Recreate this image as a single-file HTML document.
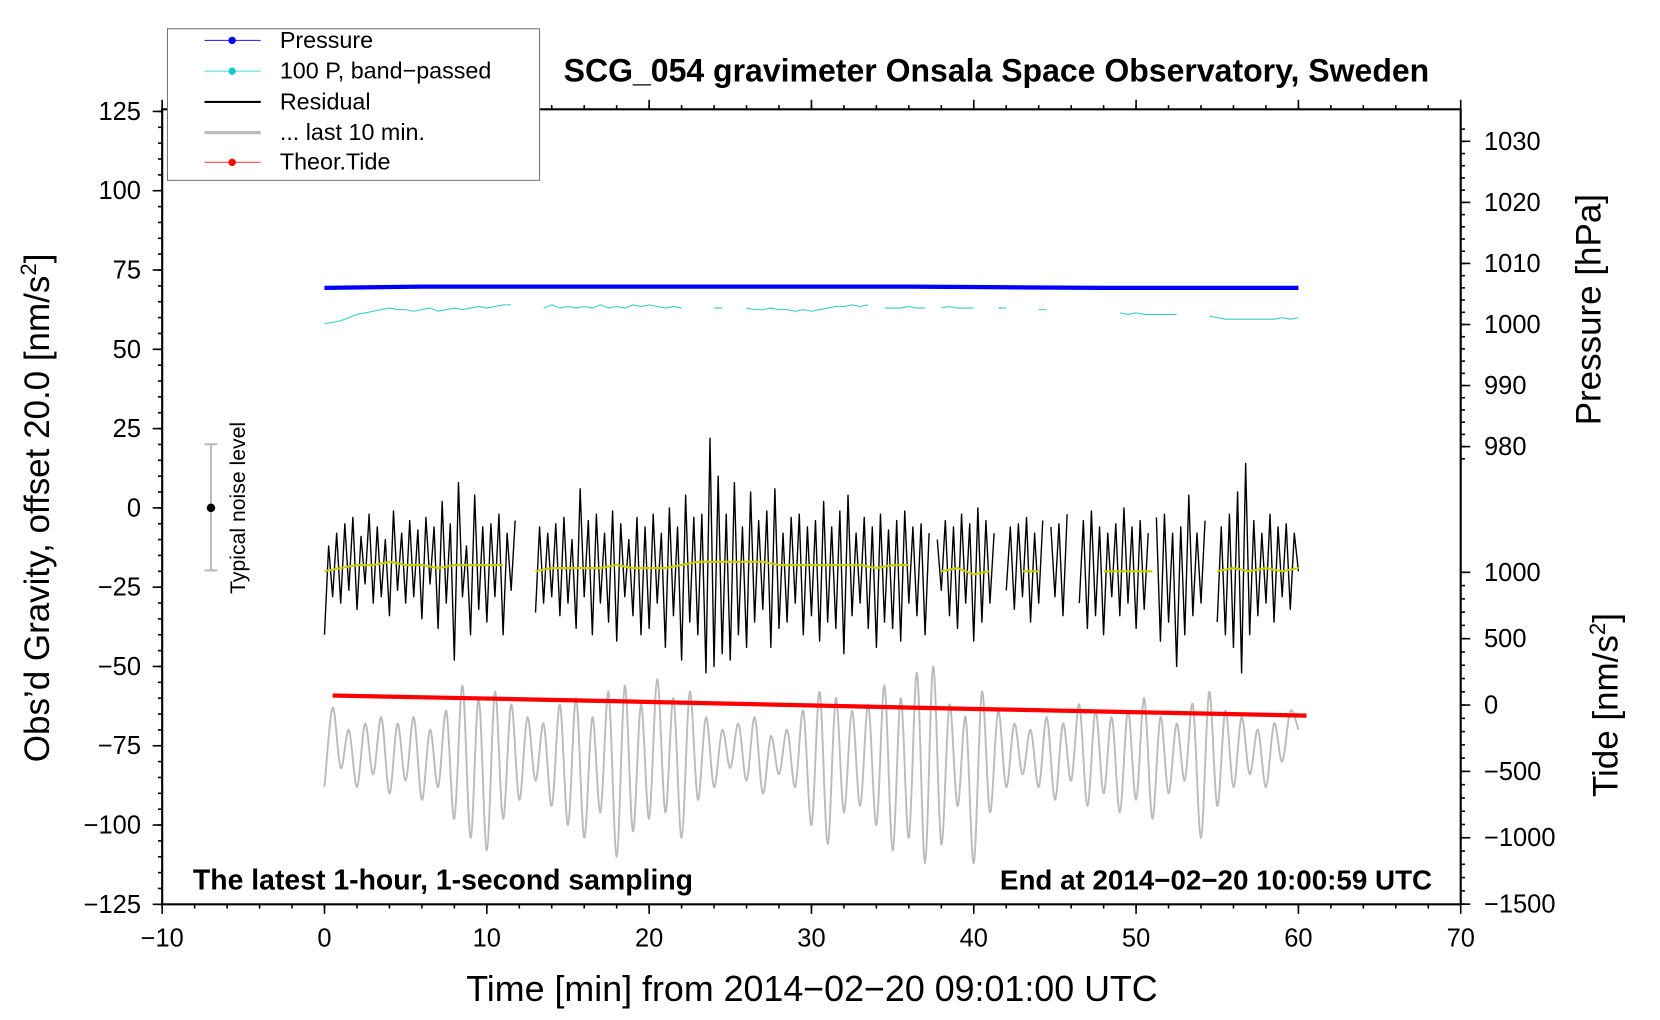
<!DOCTYPE html>
<html><head><meta charset="utf-8"><style>
html,body{margin:0;padding:0;background:#fff;}
svg{display:block;font-family:"Liberation Sans",Arial,sans-serif;}
</style></head><body>
<svg id="chart" width="1660" height="1020" viewBox="0 0 1566 962" xmlns="http://www.w3.org/2000/svg">
<rect x="0" y="0" width="1566" height="962" fill="#fff"/>
<g id="plot"></g>
<text x="940" y="77" text-anchor="middle" font-size="30.2" font-weight="bold">SCG_054 gravimeter Onsala Space Observatory, Sweden</text>
<text x="182" y="839" font-size="26.8" font-weight="bold">The latest 1-hour, 1-second sampling</text>
<text x="1351" y="839" text-anchor="end" font-size="26.2" font-weight="bold">End at 2014−02−20 10:00:59 UTC</text>
<text x="766" y="944" text-anchor="middle" font-size="33.8">Time [min] from 2014−02−20 09:01:00 UTC</text>
<text transform="translate(46,479) rotate(-90)" text-anchor="middle" font-size="33">Obs’d Gravity, offset 20.0 [nm/s<tspan font-size="21" dy="-12">2</tspan><tspan dy="12">]</tspan></text>
<text transform="translate(1510,292) rotate(-90)" text-anchor="middle" font-size="33">Pressure [hPa]</text>
<text transform="translate(1526,665) rotate(-90)" text-anchor="middle" font-size="33">Tide [nm/s<tspan font-size="21" dy="-12">2</tspan><tspan dy="12">]</tspan></text>
<g>
<line x1="199" y1="419" x2="199" y2="538" stroke="#bbb" stroke-width="2"/>
<line x1="193" y1="419" x2="205" y2="419" stroke="#bbb" stroke-width="2"/>
<line x1="193" y1="538" x2="205" y2="538" stroke="#bbb" stroke-width="2"/>
<circle cx="199" cy="479" r="4" fill="#000"/>
<text transform="translate(231,479) rotate(-90)" text-anchor="middle" font-size="20">Typical noise level</text>
</g>
<g>
<rect x="158" y="27" width="351" height="143" fill="#fff" stroke="#777" stroke-width="1"/>
<g><line x1="193" y1="38" x2="246" y2="38" stroke="#33f" stroke-width="1"/><circle cx="219" cy="38" r="3.5" fill="#00f"/><text x="264" y="45" font-size="22">Pressure</text></g>
<g><line x1="193" y1="67" x2="246" y2="67" stroke="#4dd" stroke-width="1"/><circle cx="219" cy="67" r="3.5" fill="#1cc"/><text x="264" y="74" font-size="22">100 P, band−passed</text></g>
<g><line x1="193" y1="96" x2="246" y2="96" stroke="#000" stroke-width="2"/><text x="264" y="103" font-size="22">Residual</text></g>
<g><line x1="193" y1="125" x2="246" y2="125" stroke="#bbb" stroke-width="3"/><text x="264" y="132" font-size="22">... last 10 min.</text></g>
<g><line x1="193" y1="153" x2="246" y2="153" stroke="#f44" stroke-width="1"/><circle cx="219" cy="153" r="3.5" fill="#f00"/><text x="264" y="160" font-size="22">Theor.Tide</text></g>
</g>
</svg>
<script>
const residual = [
-40,-12,-28,-8,-30,-5,-26,-3,-32,-9,-24,-2,-30,-6,-28,-10,-34,-1,-26,-8,
-30,-4,-28,-7,-35,-3,-24,-6,-38,2,-30,-5,-48,8,-28,-12,-40,4,-32,-6,
-36,-5,-28,-2,-40,-8,-26,-4,null,null,null,null,-33,-6,-30,-8,-28,-5,-34,-3,
-30,-10,-38,6,-28,-4,-40,-2,-30,-8,-36,-1,-42,-5,-28,-10,-34,-3,-40,-6,
-38,-2,-30,-8,-44,0,-34,-6,-48,4,-36,-3,-40,-2,-52,22,-50,10,-46,-2,
-48,8,-40,-6,-44,5,-36,-4,-32,-1,-44,6,-38,-8,-36,-3,-30,-2,-40,-6,
-34,-4,-42,2,-36,-6,-38,-1,-46,4,-34,-8,-30,-3,-38,-6,-44,-2,-36,-7,
-38,-4,-42,-1,-30,-6,-34,-5,-40,-8,null,-10,-26,-4,-34,-6,-38,-2,-30,-5,
-42,0,-36,-4,-30,-8,null,null,-26,-6,-32,-5,-28,-3,-36,-8,-30,-4,null,-6,
-28,-5,-34,-2,null,null,-30,-4,-38,-1,-34,-6,-40,-8,-28,-5,-34,0,-30,-6,
-38,-4,-32,-8,null,-3,-42,-2,-36,-8,-50,-6,-40,4,-34,-8,-30,-4,null,null,
-36,-6,-40,-2,-44,5,-52,14,-40,-4,-34,-8,-30,-2,-36,-6,-28,-5,-32,-8,
-20];
const smoothed = [
-20,-19,-18,-18,-17,-18,-18,-19,-18,-18,
-18,-18,null,-20,-19,-19,-19,-19,-18,-19,
-19,-19,-18,-17,-17,-17,-17,-17,-18,-18,
-18,-18,-18,-18,-19,-18,-18,null,-20,-19,
-21,-20,null,-20,-20,null,-20,null,-20,-20,
-20,-20,null,-20,null,-20,-19,-20,-19,-20,
-19];
const bandpassed = [
58,58.5,59,60,61,61.5,62,62.5,63,62.5,62.5,62,62.5,63,62,62.5,63,62.5,63,63.5,
63,63.5,64,64,null,null,null,63,64,63,63.5,63,63.5,63,64,63,63.5,63,64,63.5,
64,63.5,63,63.5,63,null,null,null,63,63,null,null,63,62.5,62.5,63,62.5,62.5,62,62.5,
62,62.5,63,63.5,63.5,64,63.5,64,null,63,63,63,63.5,63,63,null,63,63.5,63,63,
63,null,null,63,63,null,null,null,62.5,62.5,null,null,null,62,null,null,null,null,61.5,61,
61.5,61,61,61,61,61,null,null,null,60.5,60,59.5,59.5,59.5,59.5,59.5,59.5,59.5,60,59.5,
60];
const pressure = [1006.0,1006.2,1006.2,1006.2,1006.2,1006.2,1006.2,1006.1,1006.0,1006.0,1006.0];
const tide = [72,48,22,-5,-30,-55,-80];
const last10 = [
-88,-63,-82,-70,-88,-68,-84,-66,-90,-68,-86,-66,-92,-70,-88,-64,-98,-56,-104,-60,
-108,-58,-98,-62,-92,-66,-86,-68,-94,-62,-100,-60,-104,-66,-96,-58,-110,-56,-102,-62,
-98,-54,-96,-60,-104,-58,-92,-66,-88,-70,-82,-68,-86,-66,-90,-72,-84,-70,-88,-64,
-100,-58,-106,-60,-96,-64,-94,-62,-100,-56,-108,-60,-104,-52,-112,-50,-106,-62,-94,-66,
-112,-58,-96,-64,-88,-68,-84,-70,-88,-66,-92,-68,-86,-62,-94,-64,-90,-66,-96,-64,
-92,-60,-98,-66,-90,-68,-86,-62,-104,-58,-94,-64,-88,-66,-84,-70,-88,-68,-80,-64,-70];
const xTicks = [-10,0,10,20,30,40,50,60,70];
const yTicks = [125,100,75,50,25,0,-25,-50,-75,-100,-125];
const pTicks = [1030,1020,1010,1000,990,980];
const tTicks = [1000,500,0,-500,-1000,-1500];

const L=153,R=1378,T=103,B=853;
const X=t=>L+(t+10)/80*(R-L);
const Y=v=>479-v*(B-105)/250;
const YP=p=>306-(p-1000)*5.76;
const YT=v=>665-v*(62.6/500);
const NS="http://www.w3.org/2000/svg";
const plot=document.getElementById('plot');
function mk(tag,attrs){const e=document.createElementNS(NS,tag);for(const k in attrs)e.setAttribute(k,attrs[k]);return e;}
function path(vals,step,t0,yf){let d='',pen=false;vals.forEach((v,i)=>{if(v===null){pen=false;return;}d+=(pen?'L':'M')+X(t0+i*step).toFixed(1)+' '+yf(v).toFixed(1)+' ';pen=true;});return d;}
function smoothPath(vals,step,t0,yf){const p=vals.map((v,i)=>[X(t0+i*step),yf(v)]);let d='M'+p[0][0].toFixed(1)+' '+p[0][1].toFixed(1);
for(let i=0;i<p.length-1;i++){const p0=p[Math.max(0,i-1)],p1=p[i],p2=p[i+1],p3=p[Math.min(p.length-1,i+2)];
const c1=[p1[0]+(p2[0]-p0[0])/6,p1[1]+(p2[1]-p0[1])/6],c2=[p2[0]-(p3[0]-p1[0])/6,p2[1]-(p3[1]-p1[1])/6];
d+=' C'+c1.map(v=>v.toFixed(1)).join(' ')+' '+c2.map(v=>v.toFixed(1)).join(' ')+' '+p2[0].toFixed(1)+' '+p2[1].toFixed(1);}return d;}

const frame=mk('rect',{x:L,y:T,width:R-L,height:B-T,fill:'none',stroke:'#000','stroke-width':2});


plot.appendChild(frame);

const series=[
 ['last10-series',smoothPath(last10,0.5,0,Y),'#bbb',1.8],
 ['residual-series',path(residual,0.25,0,Y),'#000',1.3],
 ['smoothed-residual',path(smoothed,1,0,Y),'#cc0',2],
 ['bandpassed-pressure',path(bandpassed,0.5,0,Y),'#3cc',1],
 ['pressure-series',path(pressure,6,0,YP),'#00f',4],
 ['tide-series',path(tide,10,0.5,YT),'#f00',4]
];
series.forEach(s=>{const p=mk('path',{d:s[1],fill:'none',stroke:s[2],'stroke-width':s[3],'stroke-linejoin':'round'});


plot.appendChild(p);});

function txt(x,y,s,anchor,name){const e=mk('text',{x:x,y:y,'text-anchor':anchor,'font-size':24});e.textContent=s;


plot.appendChild(e);}
function ln(x1,y1,x2,y2){plot.appendChild(mk('line',{x1,y1,x2,y2,stroke:'#000','stroke-width':1.5}));}
const fmt=v=>String(v).replace('-','−');
xTicks.forEach(t=>{const x=X(t);ln(x,B,x,B+9);ln(x,T,x,T-9);txt(x,B+40,fmt(t),'middle','x-tick-label');});
for(let t=-10;t<=70;t+=2){const x=X(t);ln(x,B,x,B+4);ln(x,T,x,T-4);}
yTicks.forEach(v=>{const y=Y(v);ln(L,y,L-9,y);txt(L-20,y+8,fmt(v),'end','y-tick-label');});
for(let v=-125;v<=125;v+=5){const y=Y(v);ln(L,y,L-4,y);}
pTicks.forEach(p=>{const y=YP(p);ln(R,y,R+9,y);txt(R+22,y+8,fmt(p),'start','pressure-tick-label');});
for(let p=978;p<=1032;p+=2){const y=YP(p);if(y>T&&y<440)ln(R,y,R+4,y);}
tTicks.forEach(v=>{const y=YT(v);ln(R,y,R+9,y);txt(R+22,y+8,fmt(v),'start','tide-tick-label');});
for(let v=-1500;v<=1000;v+=100){const y=YT(v);ln(R,y,R+4,y);}
</script>
</body></html>
